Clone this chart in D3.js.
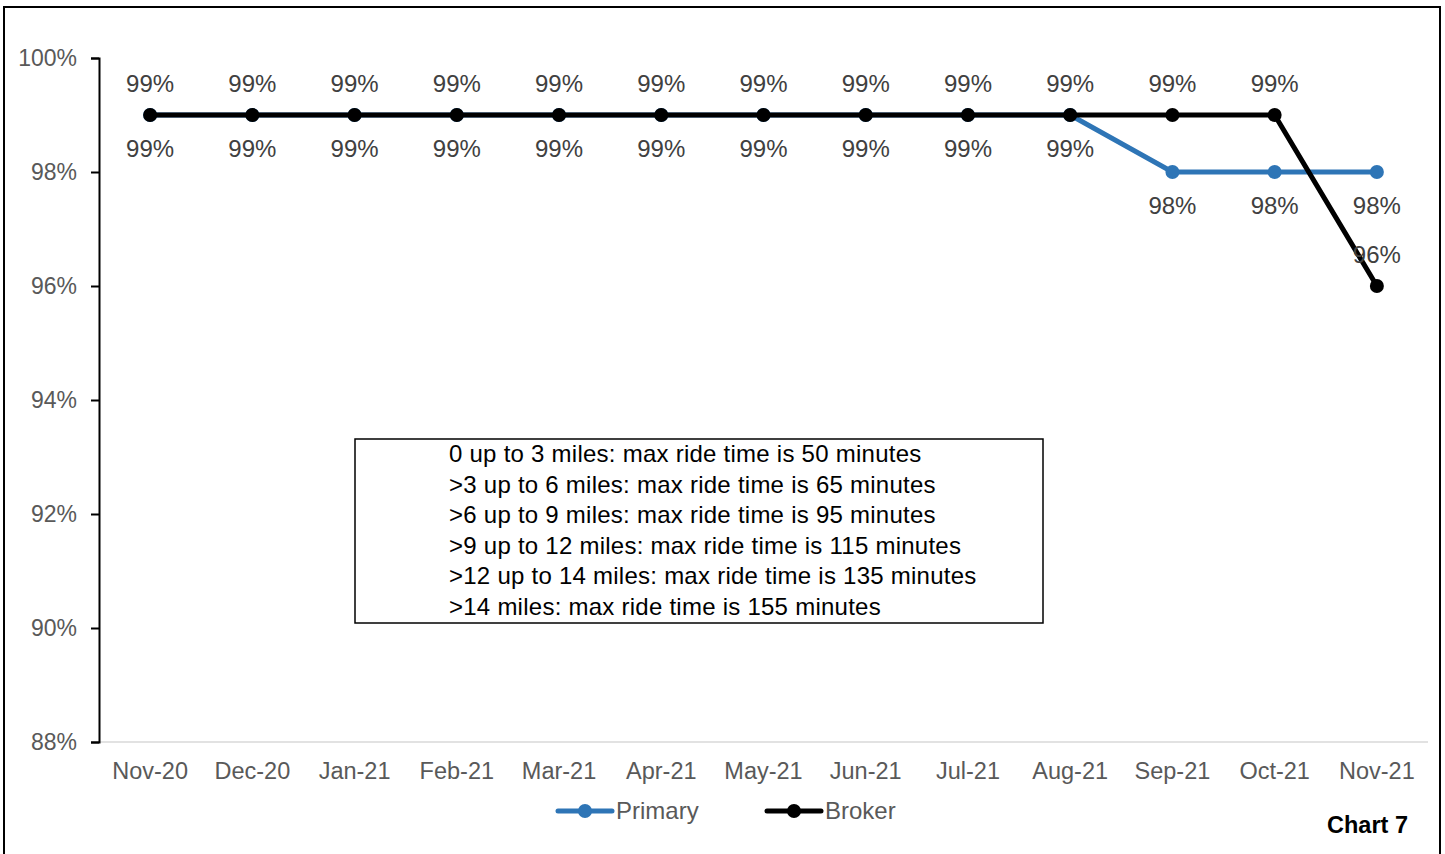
<!DOCTYPE html>
<html>
<head>
<meta charset="utf-8">
<script src="https://cdn.jsdelivr.net/npm/d3@7"></script>
<style>
  body { margin: 0; background: #fff; }
  svg { display: block; font-family: "Liberation Sans", Arial, sans-serif; }
</style>
</head>
<body>
<svg id="chart" width="1445" height="854"></svg>
<script>
const months = ['Nov-20','Dec-20','Jan-21','Feb-21','Mar-21','Apr-21','May-21','Jun-21','Jul-21','Aug-21','Sep-21','Oct-21','Nov-21']
const primary = [99,99,99,99,99,99,99,99,99,99,98,98,98]
const broker = [99,99,99,99,99,99,99,99,99,99,99,99,96]
const yTicks = [88,90,92,94,96,98,100]
const noteLines = [
  '0 up to 3 miles: max ride time is 50 minutes',
  '>3 up to 6 miles: max ride time is 65 minutes',
  '>6 up to 9 miles: max ride time is 95 minutes',
  '>9 up to 12 miles: max ride time is 115 minutes',
  '>12 up to 14 miles: max ride time is 135 minutes',
  '>14 miles: max ride time is 155 minutes'
]

const svg = d3.select('#chart')

// outer frame
svg.append('rect').attr('x', 4).attr('y', 7).attr('width', 1436).attr('height', 850)
  .attr('fill', 'none').attr('stroke', '#000').attr('stroke-width', 2)

const plotL = 99, plotR = 1428, plotT = 58, plotB = 742

const x = d3.scaleBand().domain(months).range([plotL, plotR])
const y = d3.scaleLinear().domain([88, 100]).range([plotB, plotT])
const cx = m => x(m) + x.bandwidth() / 2

// x baseline
svg.append('line').attr('x1', plotL).attr('x2', plotR).attr('y1', plotB).attr('y2', plotB)
  .attr('stroke', '#d9d9d9').attr('stroke-width', 1.5)

// y axis
const yAxis = d3.axisLeft(y).tickValues(yTicks).tickSize(8).tickFormat(d => d + '%')
const gy = svg.append('g').attr('transform', `translate(${plotL},0)`).call(yAxis)
gy.select('.domain').attr('stroke', '#000').attr('stroke-width', 2)
gy.selectAll('.tick line').attr('stroke', '#000').attr('stroke-width', 2)
gy.selectAll('.tick text').attr('fill', '#595959').attr('font-size', 23)
  .attr('x', -22).attr('font-family', '"Liberation Sans", Arial, sans-serif')

// x labels
svg.append('g').selectAll('text').data(months).enter().append('text')
  .attr('x', d => cx(d)).attr('y', 779).attr('text-anchor', 'middle')
  .attr('fill', '#595959').attr('font-size', 23.5).text(d => d)

// text box
svg.append('rect').attr('x', 355).attr('y', 439).attr('width', 688).attr('height', 184)
  .attr('fill', '#fff').attr('stroke', '#000').attr('stroke-width', 1.5)
svg.append('g').selectAll('text').data(noteLines).enter().append('text')
  .attr('x', 449).attr('y', (d, i) => 462 + i * 30.5)
  .attr('fill', '#000').attr('font-size', 24).attr('letter-spacing', 0.25).text(d => d)

const line = d3.line().x((d, i) => cx(months[i])).y(d => y(d))

function drawSeries(vals, color) {
  svg.append('path').datum(vals).attr('d', line)
    .attr('fill', 'none').attr('stroke', color).attr('stroke-width', 5)
  svg.append('g').selectAll('circle').data(vals).enter().append('circle')
    .attr('cx', (d, i) => cx(months[i])).attr('cy', d => y(d)).attr('r', 7)
    .attr('fill', color)
}
drawSeries(primary, '#2e75b6')
drawSeries(broker, '#000')

// data labels: primary below, broker above
svg.append('g').selectAll('text').data(primary).enter().append('text')
  .attr('x', (d, i) => cx(months[i])).attr('y', d => y(d) + 42)
  .attr('text-anchor', 'middle').attr('fill', '#404040').attr('font-size', 24)
  .text(d => d + '%')
svg.append('g').selectAll('text').data(broker).enter().append('text')
  .attr('x', (d, i) => cx(months[i])).attr('y', d => y(d) - 23)
  .attr('text-anchor', 'middle').attr('fill', '#404040').attr('font-size', 24)
  .text(d => d + '%')

// legend
const legend = [{name: 'Primary', color: '#2e75b6', x: 558}, {name: 'Broker', color: '#000', x: 767}]
const lg = svg.append('g').selectAll('g').data(legend).enter().append('g')
lg.append('line').attr('x1', d => d.x).attr('x2', d => d.x + 54).attr('y1', 811).attr('y2', 811)
  .attr('stroke', d => d.color).attr('stroke-width', 5).attr('stroke-linecap', 'round')
lg.append('circle').attr('cx', d => d.x + 27).attr('cy', 811).attr('r', 7).attr('fill', d => d.color)
lg.append('text').attr('x', d => d.x + 58).attr('y', 819).attr('fill', '#595959')
  .attr('font-size', 24).text(d => d.name)

// chart number
svg.append('text').attr('x', 1408).attr('y', 833).attr('text-anchor', 'end')
  .attr('font-weight', 'bold').attr('font-size', 23.5).attr('fill', '#000').text('Chart 7')
</script>
</body>
</html>
